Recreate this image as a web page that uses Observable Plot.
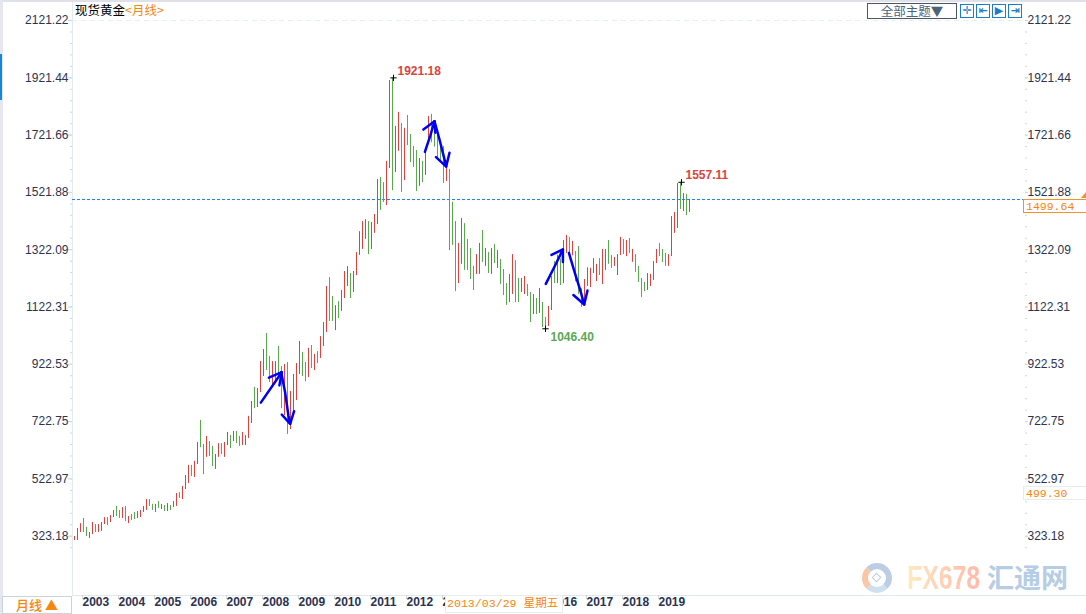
<!DOCTYPE html>
<html lang="zh">
<head>
<meta charset="utf-8">
<script src="https://cdn.jsdelivr.net/npm/d3@7"></script>
<script src="https://cdn.jsdelivr.net/npm/@observablehq/plot@0.6"></script>
<style>
html,body{margin:0;padding:0;background:#fff;width:1086px;height:614px;overflow:hidden}
#wrap{position:relative;width:1086px;height:614px;font-family:"Liberation Sans",Arial,sans-serif}
#wrap svg{position:absolute;left:0;top:0}
.o{position:absolute;white-space:nowrap;box-sizing:border-box}
.cjk{font-family:"Noto Sans CJK SC","Liberation Sans",sans-serif}
.mono{font-family:"Liberation Mono",monospace;color:#f5860f;font-size:11.5px;line-height:13px}
.ico{width:14px;height:14px;top:4px;border:1.5px solid #1c7cc6;color:#1c7cc6;font:bold 11px/11px "DejaVu Sans",sans-serif;text-align:center;background:#fff}
</style>
</head>
<body>
<div id="wrap"></div>
<script>
// monthly bars, Nov 2002 .. Dec 2019
const lows = [
308,308,336,336,322,315,329,336,336,340,
364,360,371,388,392,385,385,374,367,378,
381,385,388,406,413,427,413,406,420,416,
409,409,413,423,427,455,451,486,507,531,
528,573,632,538,598,601,566,556,598,608,
598,639,629,653,646,636,639,639,664,716,
768,772,824,880,901,859,849,866,883,768,
744,678,695,744,796,887,880,862,876,908,
901,925,943,985,1033,1072,1072,1040,1082,1107,
1152,1194,1152,1173,1232,1302,1323,1358,1305,1323,
1379,1410,1459,1487,1476,1605,1528,1591,1665,1522,
1563,1685,1626,1609,1525,1543,1556,1581,1703,1695,
1680,1639,1627,1553,1560,1319,1337,1176,1204,1271,
1250,1250,1218,1180,1236,1236,1278,1264,1239,1236,
1274,1257,1201,1162,1128,1138,1166,1138,1138,1173,
1166,1159,1068,1096,1096,1100,1051,1046.4,1054,1110,
1204,1204,1197,1204,1309,1308,1301,1210,1166,1121,
1130,1194,1190,1239,1211,1232,1201,1250,1271,1257,
1264,1232,1302,1305,1298,1309,1278,1243,1208,1155,
1176,1180,1194,1215,1274,1298,1278,1264,1264,1298,
1379,1396,1462,1455,1441,1452];
const highs = [
322,350,367,385,354,336,371,364,364,371,
388,388,395,413,427,413,423,427,392,399,
406,409,413,427,451,451,434,434,444,434,
430,437,430,444,472,475,497,535,570,570,
584,650,727,643,671,653,636,608,646,646,
650,685,674,688,688,671,685,674,741,793,
842,838,932,974,1030,950,932,932,985,915,
922,929,828,887,925,1002,964,929,978,988,
957,967,1019,1068,1194,1225,1159,1127,1141,1180,
1246,1263,1239,1246,1312,1385,1420,1427,1420,1417,
1445,1567,1574,1556,1630,1912,1921.18,1752,1801,1762,
1745,1790,1724,1682,1668,1640,1630,1668,1787,1794,
1760,1726,1694,1682,1633,1602,1487,1420,1344,1431,
1413,1358,1326,1264,1305,1344,1389,1326,1312,1326,
1340,1319,1288,1253,1204,1236,1305,1284,1222,1222,
1229,1201,1173,1166,1152,1187,1138,1086,1124,1229,
1281,1303,1290,1354,1372,1365,1351,1316,1333,1186,
1218,1259,1257,1291,1271,1291,1323,1323,1354,1302,
1295,1305,1365,1358,1354,1361,1323,1305,1264,1222,
1208,1239,1236,1281,1323,1344,1323,1309,1305,1438,
1452,1553,1557.11,1518,1515,1497];
// R = rising month, G = falling month
const dirs = Array.from(
"RRRGGRRGRR"+"RGRRGGRGRG"+"GRRRRGGRGR"+"GRGRRGRRRG"+"RRGGRGGRRG"+
"RRGRGGRRRR"+"GRRRGGRRGG"+"RGRRRRGGRG"+"RGRRRGGRGR"+"RRGRRRRRGR"+
"RRGGRRGRRG"+"RGGGGRGRRG"+"GGGGRGGGRR"+"GGGGRRGRGR"+"GRGGGRRGGR"+
"RGGRGRGGRR"+"GRGRRGRGGG"+"RRRRRGRRGG"+"RRRGRGRGGG"+"GRRRRGGGRR"+"RRGRGR");

// the date box hides the 2014 and 2015 labels in the reference
const yearLabels = ["2003","2004","2005","2006","2007","2008","2009","2010","2011","2012","2013","2016","2017","2018","2019"];
const yearIdx = [2,14,26,38,50,62,74,86,98,110,122,158,170,182,194];
const priceTicks = [2121.22,1921.44,1721.66,1521.88,1322.09,1122.31,922.53,722.75,522.97,323.18];
const minorTicks = d3.range(0,47).map(k => 2121.22 - k*39.956);

const peakIdx = [106,202], peakVal = [1921.18,1557.11];
const troughIdx = [157], troughVal = [1046.40];
const lastPrice = 1497;

// hand-drawn arrows: stroke id, month index, price
const arrowId = ["a","a","a2","a2","a2","b","b","b","b","b2","b2","b2",
 "c","c","c","c2","c2","c2","d","d","d","d","d2","d2","d2",
 "e","e","e","e2","e2","e2","f","f","f","f","f2","f2","f2"];
const arrowX = [62.1,69.1,64.8,69.1,68.3,68.9,70.2,71.3,71.9,69.1,71.9,73.2,
 116.8,118.6,120,116.3,120,120.3,120,121.6,123,123.9,120.5,123.9,125,
 157.1,160.2,162.8,159,162.8,162.8,164.8,166.7,168.6,169.9,166.3,169.9,171];
const arrowY = [789,895,876,895,849,895,825,744,715,747,715,759,
 1663,1720,1770,1741,1770,1730,1770,1709,1651,1612,1645,1612,1660,
 1203,1267,1323,1304,1323,1279,1311,1244,1180,1131,1164,1131,1180];

const bars = lows.map((low,i)=>({i,low,high:highs[i],dir:dirs[i]}));
const arrows = arrowId.map((id,k)=>({id,x:arrowX[k],y:arrowY[k]}));
const yearOf = new Map(yearIdx.map((d,k)=>[d,yearLabels[k]]));
const peaks = peakIdx.map((x,k)=>({x,v:peakVal[k]}));
const troughs = troughIdx.map((x,k)=>({x,v:troughVal[k]}));

const ink="#2b3350", tickC="#cdd8de", red="#d9443e", green="#5ba851";

const chart = Plot.plot({
  width:1086,height:614,marginLeft:72,marginRight:62,marginTop:2,marginBottom:19,
  style:{background:"#fff",fontFamily:'"Liberation Sans",Arial,sans-serif',fontSize:"12px",color:ink},
  x:{domain:[-2/3,950/3],axis:null},
  y:{domain:[116.4,2184],axis:null},
  color:{domain:["R","G"],range:[red,green]},
  marks:[
    Plot.ruleY([2121.22],{stroke:"#e8eef1",strokeDasharray:"5,4"}),
    Plot.frame({anchor:"left",stroke:"#e2ebef"}),
    Plot.frame({anchor:"bottom",stroke:"#e2e7eb"}),
    Plot.axisY(minorTicks,{anchor:"left",tickSize:2,stroke:tickC,tickFormat:()=>"",label:null}),
    Plot.axisY(minorTicks,{anchor:"right",tickSize:2,stroke:tickC,tickFormat:()=>"",label:null}),
    Plot.axisY(priceTicks,{anchor:"left",tickSize:4,tickPadding:0,stroke:tickC,fill:ink,fontSize:12,tickFormat:d=>d.toFixed(2),label:null}),
    Plot.axisY(priceTicks,{anchor:"right",tickSize:3,tickPadding:0,stroke:tickC,fill:ink,fontSize:12,tickFormat:d=>d.toFixed(2),label:null}),
    Plot.axisX(yearIdx,{anchor:"bottom",tickSize:4,tickPadding:-2,stroke:tickC,fill:ink,fontSize:12,fontWeight:600,textAnchor:"start",dx:2,tickFormat:d=>yearOf.get(d),label:null}),
    Plot.ruleY([lastPrice],{stroke:"#1f80dc",strokeDasharray:"3,2"}),
    Plot.ruleX(bars,{x:"i",y1:"low",y2:"high",stroke:"dir",strokeWidth:1}),
    Plot.line(arrows,{x:"x",y:"y",z:"id",stroke:"#0000f0",strokeWidth:2.5,curve:"linear"}),
    Plot.dot(peaks,{x:"x",y:"v",symbol:"plus",r:2.2,stroke:"#000",strokeWidth:1,dx:1}),
    Plot.dot(troughs,{x:"x",y:"v",symbol:"plus",r:2.2,stroke:"#000",strokeWidth:1}),
    Plot.text(peaks,{x:"x",y:"v",text:d=>d.v.toFixed(2),textAnchor:"start",dx:5,dy:-7,fill:red,fontWeight:"bold",fontSize:12}),
    Plot.text(troughs,{x:"x",y:"v",text:d=>d.v.toFixed(2),textAnchor:"start",dx:5,dy:8,fill:green,fontWeight:"bold",fontSize:12})
  ]
});
const wrap=document.getElementById("wrap");
wrap.appendChild(chart);
wrap.insertAdjacentHTML("beforeend",`
<div class="o" style="left:0;top:0;width:1086px;height:2px;background:#dfe0e8"></div>
<div class="o" style="left:0;top:0;width:3px;height:614px;background:#e6e6ee"></div>
<div class="o" style="left:0;top:54px;width:2px;height:46px;background:#1a86d0"></div>
<div class="o cjk" style="left:75px;top:2px;font-size:12.5px;line-height:16px;color:#000">现货黄金<span style="color:#f5860f">&lt;月线&gt;</span></div>
<div class="o cjk" style="left:867px;top:3px;width:90px;height:16px;border:1.5px solid #4a5568;font-size:12.5px;line-height:13px;color:#4d6378;text-align:center;background:#fff">全部主题▼</div>
<div class="o ico" style="left:960px">✛</div>
<div class="o ico" style="left:976px">⇤</div>
<div class="o ico" style="left:992px">▶</div>
<div class="o ico" style="left:1008px">⇥</div>
<div class="o" style="left:1081px;top:192px;width:0;height:0;border-left:5px solid transparent;border-bottom:6px solid #f2922b"></div>
<div class="o mono" style="left:1023px;top:199px;width:63px;height:14px;border:1px solid #f2922b;border-right:0;padding-left:2px;background:#fff">1499.64</div>
<div class="o mono" style="left:1023px;top:486px;width:63px;height:14px;border:1px solid #e6edf0;border-right:0;padding-left:2px;background:#fff">499.30</div>
<div class="o" style="left:1024px;top:595px;width:62px;height:1px;background:#e2e7eb"></div>
<div class="o cjk" style="left:2px;top:596px;width:70px;height:18px;border:1px solid #c9d3da;border-top:1.5px solid #c9d3da;font-size:13px;line-height:16px;color:#f5860f;text-align:center;background:#fff;font-weight:500">月线 ▲</div>
<div class="o cjk" style="left:445px;top:595px;width:118px;height:18px;border:1px solid #e6edf0;padding-left:1px;font-size:11.6px;line-height:15px;color:#f5860f;background:#fff;font-family:'Liberation Mono','Noto Sans CJK SC',monospace">2013/03/29 星期五</div>
<div class="o" style="left:862px;top:563px;width:30px;height:30px;border-radius:50%;border:6px solid #bccde4;border-left-color:#f7c7a6;border-bottom-color:#cfe0ee"></div>
<div class="o" style="left:873px;top:574px;width:7px;height:7px;border:1.5px solid #bccde4;transform:rotate(45deg)"></div>
<div class="o" style="left:907px;top:558px;font:bold 34px/38px 'Liberation Sans',sans-serif;transform:scaleX(.73);transform-origin:left top;background:linear-gradient(90deg,#ffe9bf,#ffb8aa);-webkit-background-clip:text;background-clip:text;color:transparent">FX678</div>
<div class="o cjk" style="left:987px;top:559px;font-size:27px;line-height:36px;font-weight:700;color:#b6cde6">汇通网</div>
`);
</script>
</body>
</html>
